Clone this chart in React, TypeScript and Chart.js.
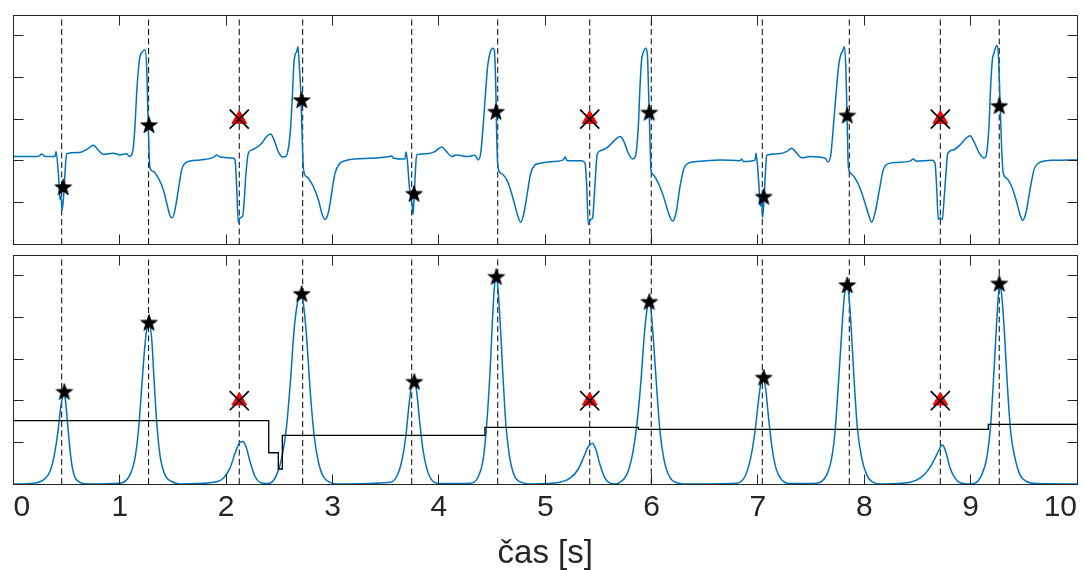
import React, { useEffect, useRef } from "react";
import { Chart, registerables } from "chart.js";

Chart.register(...registerables);

const FONT = "'Liberation Sans', Arial, Helvetica, sans-serif";
const TEXT = "#262626";
const BLUE = "#0072BD";

// ---- axes ----
const X_TICKS = [0, 1, 2, 3, 4, 5, 6, 7, 8, 9, 10];
const X_TICK_LABELS = ["0", "1", "2", "3", "4", "5", "6", "7", "8", "9", "10"];
const X_TITLE = "čas [s]";
const TOP_Y_MIN = -2;
const TOP_Y_MAX = 3.5;
const TOP_Y_TICKS = [-1, 0, 1, 2, 3];
const BOT_Y_MIN = 0;
const BOT_Y_MAX = 5.5;
const BOT_Y_TICKS = [0, 1, 2, 3, 4, 5];

// ---- top panel: ECG signal ----
const ECG_T = [
  0.0, 0.233, 0.265, 0.296, 0.39, 0.4, 0.422, 0.437, 0.447, 0.456, 0.469, 0.484, 0.5, 0.625, 0.694, 0.751, 0.798, 0.845, 0.939,
  1.001, 1.064, 1.089, 1.111, 1.127, 1.142, 1.158, 1.174, 1.189, 1.214, 1.236, 1.252, 1.265, 1.274, 1.284, 1.315, 1.362, 1.409,
  1.44, 1.472, 1.494, 1.519, 1.55, 1.581, 1.613, 1.644, 1.754, 1.879, 1.91, 1.942, 2.067, 2.083, 2.098, 2.114, 2.13, 2.155, 2.17,
  2.186, 2.208, 2.24, 2.287, 2.334, 2.38, 2.418, 2.45, 2.49, 2.531, 2.562, 2.587, 2.606, 2.622, 2.637, 2.647, 2.663, 2.675, 2.688,
  2.703, 2.713, 2.725, 2.741, 2.772, 2.819, 2.866, 2.898, 2.929, 2.96, 2.992, 3.023, 3.07, 3.133, 3.258,
  3.54, 3.556, 3.572, 3.681, 3.691, 3.703, 3.722, 3.738, 3.748, 3.757, 3.766, 3.778, 3.791, 3.885, 3.963, 4.026, 4.072, 4.12,
  4.166, 4.261, 4.339, 4.37, 4.393, 4.418, 4.443, 4.458, 4.48, 4.505, 4.521, 4.534, 4.543, 4.552, 4.568, 4.606, 4.653, 4.7,
  4.738, 4.769, 4.8, 4.832, 4.863, 4.904, 4.951, 5.076, 5.17, 5.186, 5.208, 5.343, 5.374, 5.39, 5.405, 5.427, 5.446, 5.459,
  5.474, 5.49, 5.531, 5.593, 5.656, 5.703, 5.74, 5.781, 5.822, 5.847, 5.875, 5.891, 5.906, 5.922, 5.944, 5.96, 5.972, 5.985,
  5.994, 6.016, 6.063, 6.111, 6.158, 6.196, 6.23, 6.267, 6.305, 6.345, 6.424, 6.643,
  6.831, 6.847, 6.862, 6.972, 6.981, 6.994, 7.01, 7.022, 7.035, 7.044, 7.057, 7.07, 7.082, 7.192, 7.27, 7.318, 7.358, 7.411,
  7.49, 7.631, 7.662, 7.687, 7.709, 7.74, 7.762, 7.778, 7.794, 7.813, 7.826, 7.838, 7.85, 7.872, 7.913, 7.96, 8.006, 8.044,
  8.069, 8.101, 8.142, 8.178, 8.226, 8.304, 8.43, 8.461, 8.486, 8.634, 8.665, 8.68, 8.696, 8.712, 8.734, 8.75, 8.768, 8.784,
  8.837, 8.9, 8.957, 8.994, 9.031, 9.081, 9.125, 9.15, 9.172, 9.188, 9.204, 9.219, 9.245, 9.26, 9.276, 9.292, 9.307, 9.339,
  9.386, 9.426, 9.464, 9.489, 9.52, 9.558, 9.595, 9.636, 9.715, 9.777, 10.0,
];
const ECG_V = [
  0.1, 0.1, 0.16, 0.1, 0.1, 0.22, -0.3, -0.93, -0.85, -1.19, -0.93, -0.3, 0.17, 0.2, 0.28, 0.37, 0.25, 0.15, 0.18,
  0.14, 0.17, 0.1, 0.14, 0.34, 0.82, 1.62, 2.18, 2.5, 2.62, 2.66, 2.26, 1.06, 0.26, -0.18, -0.26, -0.42, -0.7,
  -1.01, -1.32, -1.37, -1.17, -0.7, -0.22, -0.06, -0.02, 0.02, 0.08, 0.14, 0.09, 0.06, 0.02, -0.62, -1.49, -1.37, -1.33, -0.93,
  -0.3, 0.18, 0.26, 0.32, 0.42, 0.58, 0.64, 0.5, 0.22, 0.09, 0.1, 0.34, 0.82, 1.54, 2.34, 2.54, 2.62, 2.74, 2.26,
  1.54, 0.66, -0.14, -0.34, -0.42, -0.62, -0.93, -1.25, -1.41, -1.25, -0.77, -0.3, -0.06, 0.01, 0.05,
  0.1, 0.12, 0.06, 0.04, 0.21, 0.02, -0.62, -0.93, -1.05, -1.29, -0.93, -0.3, 0.14, 0.17, 0.22, 0.33, 0.22, 0.1,
  0.14, 0.1, 0.13, 0.02, 0.18, 0.9, 1.78, 2.26, 2.58, 2.7, 2.66, 1.86, 0.66, -0.06, -0.26, -0.34, -0.54, -0.93,
  -1.29, -1.48, -1.25, -0.77, -0.3, -0.1, -0.06, -0.02, 0.02, 0.09, 0.0, 0.0, -0.06, -0.62, -1.53, -1.41, -1.37, -0.93,
  -0.3, 0.17, 0.25, 0.34, 0.5, 0.58, 0.46, 0.18, 0.04, 0.1, 0.82, 1.78, 2.42, 2.6, 2.7, 2.58, 1.62, 0.5,
  -0.22, -0.34, -0.54, -0.85, -1.25, -1.45, -1.25, -0.62, -0.18, -0.06, -0.02, 0.02,
  0.0, 0.04, -0.02, 0.01, 0.18, -0.06, -0.62, -1.09, -0.93, -1.37, -0.93, -0.3, 0.13, 0.17, 0.22, 0.3, 0.2, 0.07,
  0.1, 0.06, -0.03, 0.18, 0.82, 1.78, 2.34, 2.54, 2.62, 2.74, 2.26, 1.06, -0.14, -0.3, -0.42, -0.66, -1.01, -1.33,
  -1.48, -1.25, -0.7, -0.22, -0.07, -0.04, -0.01, 0.04, -0.01, 0.01, -0.06, -0.62, -1.41, -1.37, -1.41, -0.93, -0.3, 0.17,
  0.26, 0.38, 0.54, 0.6, 0.46, 0.18, 0.06, 0.17, 0.82, 1.78, 2.42, 2.58, 2.76, 2.58, 1.46, 0.26, -0.3, -0.42,
  -0.62, -0.93, -1.29, -1.43, -1.25, -0.7, -0.22, -0.06, 0.0, 0.01, 0.02,
];

// ---- bottom panel: detection envelope ----
const ENV_T = [
  0.0, 0.186, 0.281, 0.343, 0.39, 0.422, 0.447, 0.475, 0.49, 0.515, 0.54, 0.569, 0.625, 0.704,
  1.001, 1.095, 1.142, 1.174, 1.205, 1.236, 1.258, 1.277, 1.299, 1.321, 1.346, 1.377, 1.424, 1.487, 1.565,
  1.88, 1.973, 2.036, 2.083, 2.123, 2.155, 2.186, 2.224, 2.271, 2.318, 2.38,
  2.412, 2.474, 2.522, 2.569, 2.606, 2.637, 2.669, 2.694, 2.71, 2.731, 2.757, 2.788, 2.826, 2.866, 2.913, 2.976, 3.07,
  3.54, 3.603, 3.65, 3.687, 3.719, 3.744, 3.766, 3.791, 3.816, 3.848, 3.885, 3.932, 4.01,
  4.293, 4.371, 4.418, 4.449, 4.481, 4.503, 4.521, 4.537, 4.552, 4.574, 4.6, 4.628, 4.662, 4.706, 4.778, 4.888,
  5.139, 5.233, 5.311, 5.364, 5.405, 5.443, 5.477, 5.515, 5.562, 5.609, 5.656,
  5.688, 5.765, 5.813, 5.859, 5.897, 5.929, 5.954, 5.976, 5.994, 6.016, 6.048, 6.079, 6.117, 6.167, 6.236, 6.33,
  6.8, 6.878, 6.931, 6.972, 7.004, 7.028, 7.05, 7.072, 7.097, 7.129, 7.169, 7.223, 7.302,
  7.552, 7.646, 7.693, 7.725, 7.756, 7.788, 7.813, 7.835, 7.853, 7.875, 7.903, 7.935, 7.976, 8.023, 8.085, 8.179,
  8.43, 8.524, 8.602, 8.665, 8.706, 8.734, 8.765, 8.806, 8.853, 8.9, 8.994,
  9.041, 9.104, 9.151, 9.188, 9.219, 9.245, 9.264, 9.276, 9.295, 9.317, 9.345, 9.376, 9.417, 9.464, 9.527, 9.621, 10.0,
];
const ENV_V = [
  0.0, 0.02, 0.1, 0.3, 0.78, 1.34, 1.9, 2.16, 1.98, 1.26, 0.62, 0.22, 0.04, 0.0,
  0.02, 0.22, 0.62, 1.26, 2.3, 3.34, 3.78, 3.82, 3.5, 2.54, 1.5, 0.7, 0.22, 0.06, 0.0,
  0.04, 0.14, 0.38, 0.74, 0.98, 1.02, 0.9, 0.54, 0.18, 0.04, 0.01,
  0.02, 0.22, 0.62, 1.42, 2.54, 3.66, 4.34, 4.54, 4.53, 4.22, 3.5, 2.3, 1.18, 0.54, 0.18, 0.04, 0.0,
  0.04, 0.18, 0.54, 1.1, 1.9, 2.38, 2.46, 2.22, 1.58, 0.86, 0.38, 0.1, 0.01,
  0.02, 0.18, 0.62, 1.42, 2.7, 3.9, 4.7, 4.94, 4.78, 3.98, 2.7, 1.5, 0.7, 0.22, 0.04, 0.0,
  0.04, 0.14, 0.36, 0.66, 0.9, 0.98, 0.82, 0.46, 0.14, 0.02, 0.0,
  0.02, 0.22, 0.62, 1.38, 2.38, 3.5, 4.14, 4.34, 4.18, 3.5, 2.3, 1.26, 0.58, 0.18, 0.03, 0.0,
  0.02, 0.18, 0.62, 1.26, 1.98, 2.42, 2.5, 2.3, 1.66, 0.94, 0.38, 0.1, 0.01,
  0.02, 0.22, 0.62, 1.26, 2.38, 3.66, 4.54, 4.74, 4.58, 3.82, 2.54, 1.34, 0.62, 0.22, 0.04, 0.0,
  0.04, 0.14, 0.34, 0.62, 0.84, 0.94, 0.78, 0.39, 0.14, 0.03, 0.0,
  0.02, 0.22, 0.62, 1.42, 2.7, 3.9, 4.62, 4.74, 4.46, 3.66, 2.38, 1.26, 0.62, 0.22, 0.06, 0.01, 0.0,
];

// ---- adaptive threshold (step line) ----
const THR_T = [0, 2.4, 2.4, 2.49, 2.49, 2.528, 2.528, 4.433, 4.433, 5.876, 5.876, 9.166, 9.166, 10];
const THR_V = [1.52, 1.52, 0.75, 0.75, 0.36, 0.36, 1.17, 1.17, 1.36, 1.36, 1.31, 1.31, 1.43, 1.43];

// ---- detections ----
const DETECT_T = [0.453, 1.27, 2.123, 2.719, 3.744, 4.553, 5.418, 5.997, 7.041, 7.859, 8.715, 9.269];
const TOP_STAR_T = [0.468, 1.274, 2.71, 3.766, 4.537, 5.978, 7.054, 7.84, 9.269];
const TOP_STAR_V = [-0.63, 0.86, 1.46, -0.79, 1.18, 1.16, -0.86, 1.09, 1.32];
const BOT_STAR_T = [0.478, 1.274, 2.71, 3.769, 4.54, 5.978, 7.054, 7.84, 9.269];
const BOT_STAR_V = [2.22, 3.88, 4.57, 2.46, 4.98, 4.38, 2.56, 4.78, 4.82];
const REJECT_T = [2.123, 5.418, 8.715];
const REJECT_TOP_V = [1.0, 1.0, 1.0];
const REJECT_BOT_V = [2.0, 2.0, 2.0];

const pts = (xs: number[], ys: number[]) => xs.map((x, i) => ({ x, y: ys[i] }));

function makeStar(): HTMLCanvasElement {
  const c = document.createElement("canvas");
  c.width = 22;
  c.height = 22;
  const g = c.getContext("2d")!;
  const R = 8.8;
  const r = R * 0.4;
  g.beginPath();
  for (let i = 0; i < 10; i++) {
    const rad = i % 2 === 0 ? R : r;
    const a = -Math.PI / 2 + (i * Math.PI) / 5;
    const px = 11 + rad * Math.cos(a);
    const py = 11.7 + rad * Math.sin(a);
    if (i === 0) g.moveTo(px, py);
    else g.lineTo(px, py);
  }
  g.closePath();
  g.fillStyle = "#000";
  g.fill();
  g.strokeStyle = "#000";
  g.lineWidth = 0.8;
  g.stroke();
  return c;
}

const framePlugin = {
  id: "frame",
  afterDatasetsDraw(chart: any, _args: any, opts: any) {
    const { ctx, chartArea: a, scales } = chart;
    const x = scales.x;
    const y = scales.y;
    const snap = (v: number) => Math.round(v - 0.5) + 0.5;
    const TL = 10;
    ctx.save();
    ctx.strokeStyle = TEXT;
    ctx.lineWidth = 1;
    ctx.setLineDash([]);
    ctx.beginPath();
    const L = snap(a.left), R = snap(a.right), T = snap(a.top), B = snap(a.bottom);
    for (const v of X_TICKS) {
      const px = snap(x.getPixelForValue(v));
      ctx.moveTo(px, T);
      ctx.lineTo(px, T + TL);
      ctx.moveTo(px, B);
      ctx.lineTo(px, B - TL);
    }
    for (const v of opts.yTicks as number[]) {
      const py = snap(y.getPixelForValue(v));
      ctx.moveTo(L, py);
      ctx.lineTo(L + TL, py);
      ctx.moveTo(R, py);
      ctx.lineTo(R - TL, py);
    }
    ctx.stroke();
    ctx.strokeRect(L, T, R - L, B - T);
    ctx.restore();
  },
};

function vlines(ts: number[], lo: number, hi: number) {
  const out: { x: number; y: number | null }[] = [];
  ts.forEach((t) => {
    out.push({ x: t, y: lo }, { x: t, y: hi }, { x: t, y: null });
  });
  return out;
}

export default function App() {
  const topRef = useRef<HTMLCanvasElement>(null);
  const botRef = useRef<HTMLCanvasElement>(null);

  useEffect(() => {
    const star = makeStar();
    const common = (yMin: number, yMax: number, xDisplay: boolean): any => ({
      x: {
        type: "linear",
        min: 0,
        max: 10,
        display: xDisplay,
        position: "bottom",
        grid: { display: false, drawTicks: false },
        border: { display: false },
        afterBuildTicks: (s: any) => {
          s.ticks = X_TICKS.map((v) => ({ value: v }));
        },
        ticks: {
          align: "inner",
          padding: 6,
          color: TEXT,
          autoSkip: false,
          maxRotation: 0,
          font: { family: FONT, size: 30 },
          callback: (v: any) => {
            const i = X_TICKS.indexOf(Number(v));
            return i >= 0 ? X_TICK_LABELS[i] : "";
          },
        },
        title: {
          display: true,
          text: X_TITLE,
          color: TEXT,
          font: { family: FONT, size: 33, lineHeight: 1 },
          padding: { top: 0, bottom: 0 },
        },
        afterFit: (s: any) => {
          s.height = xDisplay ? 86 : 0;
          s.paddingLeft = 0;
          s.paddingRight = 0;
        },
      },
      y: { type: "linear", min: yMin, max: yMax, display: false },
    });

    const markerSets = (starT: number[], starV: number[], rejV: number[]) => [
      {
        label: "rejected-x",
        data: pts(REJECT_T, rejV),
        showLine: false,
        pointStyle: "crossRot",
        pointRadius: 13.5,
        pointBorderColor: "#000",
        pointBorderWidth: 1.7,
        pointBackgroundColor: "#000",
        order: 0,
      },
      {
        label: "rejected",
        data: pts(REJECT_T, rejV),
        showLine: false,
        pointStyle: "triangle",
        pointRadius: 8.5,
        pointBorderColor: "#ff0000",
        pointBorderWidth: 1,
        pointBackgroundColor: "#ff0000",
        order: 1,
      },
      {
        label: "detected",
        data: pts(starT, starV),
        showLine: false,
        pointStyle: star,
        pointRadius: 8,
        order: 2,
      },
    ];

    const dashSet = (lo: number, hi: number) => ({
      label: "lines",
      data: vlines(DETECT_T, lo, hi),
      borderColor: "#1a1a1a",
      borderWidth: 1.1,
      borderDash: [6, 3.5],
      pointRadius: 0,
      spanGaps: false,
      tension: 0,
      order: 6,
    });

    const topChart = new Chart(topRef.current!, {
      type: "line",
      data: {
        datasets: [
          ...markerSets(TOP_STAR_T, TOP_STAR_V, REJECT_TOP_V),
          {
            label: "ecg",
            data: pts(ECG_T, ECG_V),
            borderColor: BLUE,
            borderWidth: 1.5,
            pointRadius: 0,
            cubicInterpolationMode: "monotone",
            order: 4,
          },
          dashSet(TOP_Y_MIN, TOP_Y_MAX),
        ] as any,
      },
      options: {
        responsive: false,
        animation: false,
        events: [],
        layout: { autoPadding: false, padding: { left: 13.5, right: 6, top: 15, bottom: 6 } },
        scales: common(TOP_Y_MIN, TOP_Y_MAX, false),
        plugins: {
          legend: { display: false },
          tooltip: { enabled: false },
          frame: { yTicks: TOP_Y_TICKS },
        } as any,
      },
      plugins: [framePlugin],
    });

    const botChart = new Chart(botRef.current!, {
      type: "line",
      data: {
        datasets: [
          ...markerSets(BOT_STAR_T, BOT_STAR_V, REJECT_BOT_V),
          {
            label: "threshold",
            data: pts(THR_T, THR_V),
            borderColor: "#000",
            borderWidth: 1.3,
            pointRadius: 0,
            tension: 0,
            order: 3,
          },
          {
            label: "envelope",
            data: pts(ENV_T, ENV_V),
            borderColor: BLUE,
            borderWidth: 1.5,
            pointRadius: 0,
            cubicInterpolationMode: "monotone",
            order: 4,
          },
          dashSet(BOT_Y_MIN, BOT_Y_MAX),
        ] as any,
      },
      options: {
        responsive: false,
        animation: false,
        events: [],
        layout: { autoPadding: false, padding: { left: 13.5, right: 6, top: 5, bottom: 0 } },
        scales: common(BOT_Y_MIN, BOT_Y_MAX, true),
        plugins: {
          legend: { display: false },
          tooltip: { enabled: false },
          frame: { yTicks: BOT_Y_TICKS },
        } as any,
      },
      plugins: [framePlugin],
    });

    return () => {
      topChart.destroy();
      botChart.destroy();
    };
  }, []);

  return (
    <div style={{ position: "absolute", left: 0, top: 0, width: 1083, height: 570, background: "#fff" }}>
      <canvas ref={topRef} width={1083} height={250} style={{ position: "absolute", left: 0, top: 0, display: "block" }} />
      <canvas ref={botRef} width={1083} height={320} style={{ position: "absolute", left: 0, top: 250, display: "block" }} />
    </div>
  );
}
